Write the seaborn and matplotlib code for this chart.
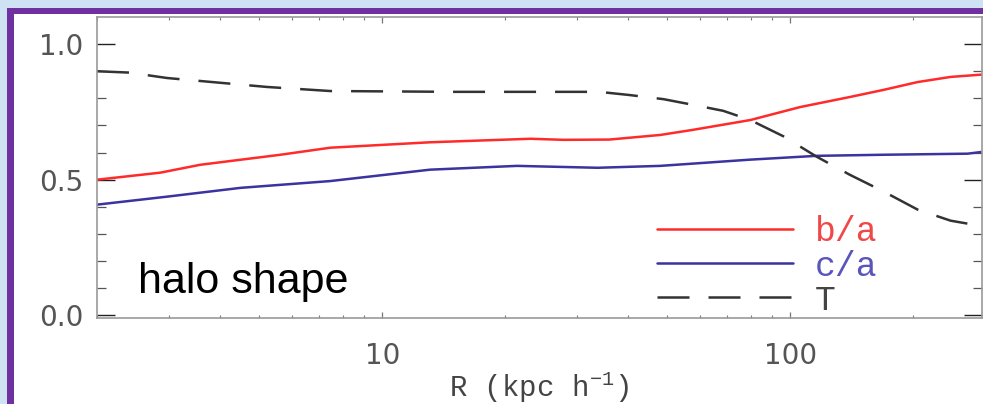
import numpy as np
import pandas as pd
import matplotlib
matplotlib.use("Agg")
import matplotlib.pyplot as plt
from matplotlib.patches import Rectangle
from matplotlib.ticker import FixedLocator, NullFormatter, LogLocator
import seaborn as sns

# ---- data ----
R_ba = [2.0, 2.86, 3.58, 5.63, 7.46, 13.1, 23.1, 27.8, 36.0, 48.0, 57.8, 79.8, 105.8, 140, 169, 205, 247, 297]
ba = [0.50, 0.526, 0.555, 0.592, 0.618, 0.638, 0.651, 0.647, 0.648, 0.665, 0.684, 0.72, 0.768, 0.805, 0.831, 0.86, 0.879, 0.888]

R_ca = [2.0, 2.97, 4.5, 7.46, 13.1, 21.4, 33.7, 48.0, 79.8, 116, 169, 272, 297]
ca = [0.408, 0.4375, 0.47, 0.495, 0.537, 0.551, 0.544, 0.551, 0.574, 0.588, 0.592, 0.596, 0.603]

R_T = [2.0, 2.4, 2.97, 5.22, 7.46, 15.0, 34.0, 40.5, 48.9, 57.8, 68.5, 79.8, 96.2, 116, 140, 169, 205, 247, 297]
T = [0.90, 0.895, 0.875, 0.842, 0.827, 0.824, 0.824, 0.812, 0.797, 0.776, 0.754, 0.72, 0.66, 0.585, 0.518, 0.457, 0.39, 0.349, 0.328]

labels = ["b/a", "c/a", "T"]
line_colors = ["#ff2a2a", "#3a33a0", "#333333"]
text_colors = ["#f04848", "#5a55bb", "#444444"]

sns.set_theme(style="white")
plt.rcParams["font.family"] = ["DejaVu Sans"]

W, H = 983, 404
fig = plt.figure(figsize=(W / 100, H / 100), dpi=100)
fig.patch.set_facecolor("#cfe2f3")
fig.patches.append(Rectangle((7 / W, 0), 1, (H - 8) / H, transform=fig.transFigure,
                             facecolor="#7030a0", edgecolor="none", zorder=-2))
fig.patches.append(Rectangle((14 / W, 0), 1, (H - 14) / H, transform=fig.transFigure,
                             facecolor="white", edgecolor="none", zorder=-1))

ax = fig.add_axes([97 / W, 1 - 318 / H, (982 - 97) / W, (318 - 17) / H])
ax.set_facecolor("white")

df_ba = pd.DataFrame({"R": R_ba, "v": ba})
df_ca = pd.DataFrame({"R": R_ca, "v": ca})
df_T = pd.DataFrame({"R": R_T, "v": T})

lw = 1.8
sns.lineplot(data=df_ba, x="R", y="v", ax=ax, color=line_colors[0], linewidth=lw, estimator=None)
sns.lineplot(data=df_ca, x="R", y="v", ax=ax, color=line_colors[1], linewidth=lw, estimator=None)
sns.lineplot(data=df_T, x="R", y="v", ax=ax, color=line_colors[2], linewidth=lw, estimator=None)
ax.lines[-1].set_dashes((12.8, 7.6))

ax.set_xscale("log")
ax.set_xlim(2.0, 295)
ax.set_ylim(-0.01, 1.10)

ax.set_yticks([0.0, 0.5, 1.0])
ax.set_yticklabels(["0.0", "0.5", "1.0"])
ax.yaxis.set_minor_locator(FixedLocator([0.1, 0.2, 0.3, 0.4, 0.6, 0.7, 0.8, 0.9]))
ax.set_xticks([10, 100])
ax.set_xticklabels(["10", "100"])
ax.xaxis.set_minor_locator(LogLocator(base=10, subs=np.arange(2, 10)))
ax.xaxis.set_minor_formatter(NullFormatter())

tc = "#555555"
ax.tick_params(axis="y", which="major", direction="in", length=13, width=1.0, color="#222222",
               left=True, right=True, labelsize=20, labelcolor=tc, pad=10)
ax.tick_params(axis="y", which="minor", direction="in", length=6.5, width=0.9, color="#555555",
               left=True, right=True)
ax.tick_params(axis="x", which="major", direction="in", length=4, width=0.9, color="#777777",
               bottom=True, top=True, labelsize=20, labelcolor=tc, pad=17)
ax.tick_params(axis="x", which="minor", direction="in", length=2.5, width=0.8, color="#777777",
               bottom=True, top=True)

for s in ax.spines.values():
    s.set_color("#999999")
    s.set_linewidth(1.2)

ax.set_ylabel("")
ax.set_xlabel(r"R (kpc h$^{\mathregular{-1}}$)", fontsize=21, color="#444444",
              family=["Liberation Mono", "DejaVu Sans"], labelpad=0)

ax.text((138 - 97) / (982 - 97), (318 - 293) / (318 - 17), "halo shape",
        transform=ax.transAxes, fontsize=31, family=["Liberation Sans"],
        color="black", va="baseline", ha="left")

handles = list(ax.lines[:3])
leg = ax.legend(handles, labels, loc="center left",
                bbox_to_anchor=((657 - 97) / (982 - 97), (318 - 266) / (318 - 17)),
                frameon=False, borderpad=0, borderaxespad=0,
                handlelength=3.92, handletextpad=0.62, labelspacing=0.03,
                prop={"family": ["Liberation Mono"], "size": 25})
for txt, c in zip(leg.get_texts(), text_colors):
    txt.set_color(c)

fig.savefig("out.png", dpi=100, facecolor=fig.get_facecolor())
